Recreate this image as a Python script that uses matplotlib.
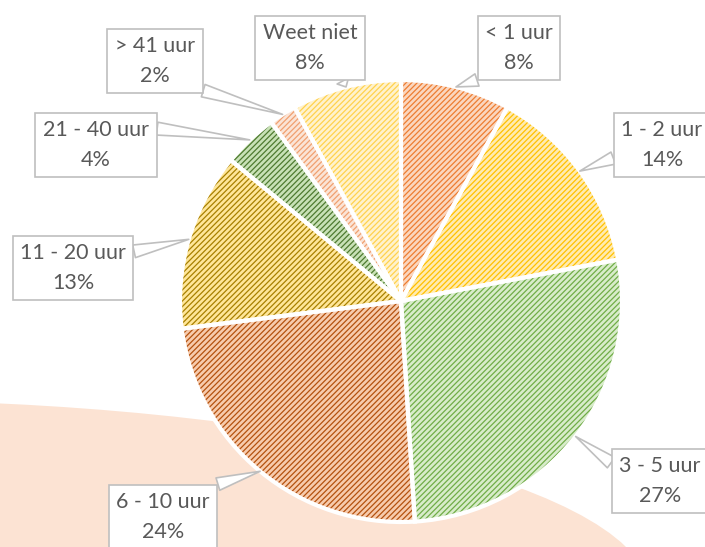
import matplotlib.pyplot as plt
from matplotlib.patches import Wedge, Ellipse
import numpy as np

# data
categories = ['< 1 uur', '1 - 2 uur', '3 - 5 uur', '6 - 10 uur',
              '11 - 20 uur', '21 - 40 uur', '> 41 uur', 'Weet niet']
percentages = [8, 14, 27, 24, 13, 4, 2, 8]

# styles
face_colors = ['#FBD6BE', '#FFEBB0', '#D8ECCA', '#F7CBAD',
               '#FFE699', '#C8E1B6', '#FBE4D6', '#FFF2CC']
hatch_colors = ['#ED7D31', '#FFC000', '#70AD47', '#B4520F',
                '#A88000', '#4E7A30', '#F0A070', '#FFD24D']

# label box centres (pixel coords, y from top) and callout anchor on box
label_pos = [(519, 48), (662, 145), (660, 481), (163, 517),
             (73, 268), (96, 145), (155, 61), (310, 48)]
rel_pos = [(0.2, 0.0), (0.0, 0.3), (0.0, 0.75), (0.8, 1.0),
           (1.0, 0.8), (1.0, 0.85), (0.9, 0.0), (0.8, 0.0)]

W, H = 705, 547
cx, cy, r = 401, H - 301, 221

fig = plt.figure(figsize=(W / 100, H / 100), dpi=100)
ax = fig.add_axes([0, 0, 1, 1])

# background decoration
ax.add_patch(Ellipse((-150, H - 594), 1600, 388, color='#FCE3D3', zorder=0, lw=0))

wedges, _ = ax.pie(percentages, colors=face_colors, startangle=90, counterclock=False,
                   center=(cx, cy), radius=r, wedgeprops=dict(linewidth=0))

plt.rcParams['hatch.linewidth'] = 0.9
for w, hc in zip(wedges, hatch_colors):
    w.set_zorder(2)
    ax.add_patch(Wedge(w.center, w.r, w.theta1, w.theta2, fill=False,
                       hatch='//////', edgecolor=hc, lw=0, zorder=3))
    ax.add_patch(Wedge(w.center, w.r, w.theta1, w.theta2, fill=False,
                       edgecolor='white', lw=3, zorder=4))

for w, cat, pct, (lx, ly), rp in zip(wedges, categories, percentages, label_pos, rel_pos):
    mid = np.deg2rad((w.theta1 + w.theta2) / 2)
    px = w.center[0] + w.r * np.cos(mid)
    py = w.center[1] + w.r * np.sin(mid)
    ax.annotate(f'{cat}\n{pct}%', xy=(px, py), xytext=(lx, H - ly),
                ha='center', va='center', fontsize=15.5, family=['Lato', 'DejaVu Sans'],
                color='#595959', linespacing=1.6, zorder=6,
                bbox=dict(boxstyle='square,pad=0.35', fc='white', ec='#BFBFBF', lw=1.2),
                arrowprops=dict(arrowstyle='wedge,tail_width=0.6', fc='white', ec='#BFBFBF',
                                lw=1.2, shrinkA=0, shrinkB=0, relpos=rp))

ax.set_xlim(0, W)
ax.set_ylim(0, H)
ax.set_aspect('equal')
ax.axis('off')

fig.savefig('out.png', dpi=100, facecolor='white')
